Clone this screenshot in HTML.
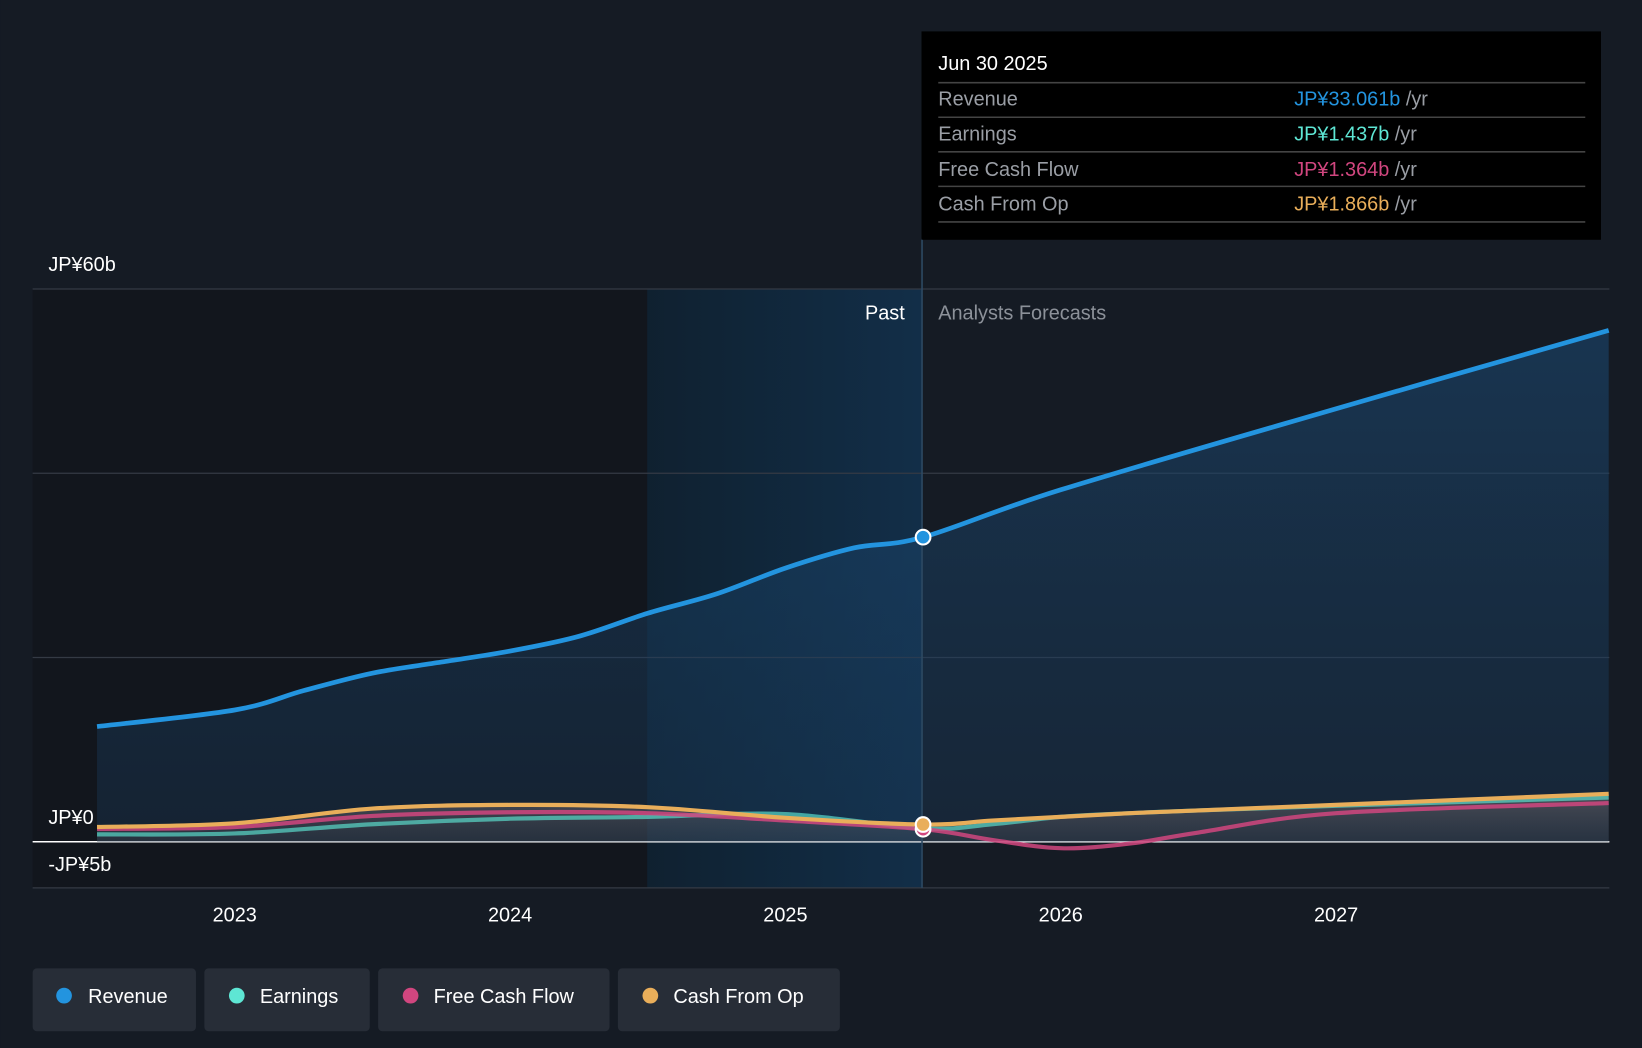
<!DOCTYPE html>
<html><head><meta charset="utf-8"><style>
html,body{margin:0;padding:0;background:#151b24;}
svg{display:block;font-family:"Liberation Sans",sans-serif;}
</style></head><body>
<svg id="chart" width="1642" height="1048" viewBox="0 0 1568 1001" xmlns="http://www.w3.org/2000/svg">
<defs>
<linearGradient id="pastGrad" x1="0" x2="1" y1="0" y2="0"><stop offset="0" stop-color="#0f2232"/><stop offset="1" stop-color="#12314d"/></linearGradient>
<linearGradient id="revFill" x1="0" x2="0" y1="0" y2="1"><stop offset="0" stop-color="#1a4a75" stop-opacity="0.55"/><stop offset="1" stop-color="#1a3a5a" stop-opacity="0.35"/></linearGradient>
<linearGradient id="lowFill" x1="0" x2="0" y1="0" y2="1"><stop offset="0" stop-color="#8a7a7a" stop-opacity="0.45"/><stop offset="1" stop-color="#5a5a60" stop-opacity="0.25"/></linearGradient>
</defs>
<rect width="1568" height="1001" fill="#151b24"/>
<rect x="31" y="276" width="849" height="572" fill="#12161d"/>
<rect x="618" y="276" width="262" height="572" fill="url(#pastGrad)" opacity="0.9"/>
<g id="grid"></g>
<g id="series"></g>
<line x1="880.5" y1="228" x2="880.5" y2="848" stroke="#2d4a63" stroke-width="1.5"/>
<text x="864" y="305" fill="#fff" font-size="19" text-anchor="end">Past</text>
<text x="896" y="305" fill="#8c9199" font-size="19">Analysts Forecasts</text>
<g id="xaxis"></g>
<g id="markers"></g>
<g>
<rect x="880" y="30" width="649" height="199" fill="#000"/>
<text x="896" y="67" fill="#fff" font-size="19">Jun 30 2025</text>
<line x1="896" y1="79" x2="1514" y2="79" stroke="#444" stroke-width="1.5"/>
<text x="896" y="101" fill="#9a9ea5" font-size="19">Revenue</text>
<text x="1236" y="101" font-size="19"><tspan fill="#2394df">JP¥33.061b</tspan><tspan fill="#9a9ea5"> /yr</tspan></text>
<line x1="896" y1="112" x2="1514" y2="112" stroke="#444" stroke-width="1.5"/>
<text x="896" y="134" fill="#9a9ea5" font-size="19">Earnings</text>
<text x="1236" y="134" font-size="19"><tspan fill="#5ee6d4">JP¥1.437b</tspan><tspan fill="#9a9ea5"> /yr</tspan></text>
<line x1="896" y1="145" x2="1514" y2="145" stroke="#444" stroke-width="1.5"/>
<text x="896" y="168" fill="#9a9ea5" font-size="19">Free Cash Flow</text>
<text x="1236" y="168" font-size="19"><tspan fill="#d1467f">JP¥1.364b</tspan><tspan fill="#9a9ea5"> /yr</tspan></text>
<line x1="896" y1="178" x2="1514" y2="178" stroke="#444" stroke-width="1.5"/>
<text x="896" y="201" fill="#9a9ea5" font-size="19">Cash From Op</text>
<text x="1236" y="201" font-size="19"><tspan fill="#e9ae5a">JP¥1.866b</tspan><tspan fill="#9a9ea5"> /yr</tspan></text>
<line x1="896" y1="212" x2="1514" y2="212" stroke="#444" stroke-width="1.5"/>
</g>
<g>
<g><rect x="31" y="925" width="156" height="60" rx="4" fill="#272d37"/><circle cx="61" cy="951" r="7.5" fill="#2394df"/><text x="84" y="958" fill="#fff" font-size="19">Revenue</text></g>
<g><rect x="195" y="925" width="158" height="60" rx="4" fill="#272d37"/><circle cx="226" cy="951" r="7.5" fill="#5ee6d4"/><text x="248" y="958" fill="#fff" font-size="19">Earnings</text></g>
<g><rect x="361" y="925" width="221" height="60" rx="4" fill="#272d37"/><circle cx="392" cy="951" r="7.5" fill="#d1467f"/><text x="414" y="958" fill="#fff" font-size="19">Free Cash Flow</text></g>
<g><rect x="590" y="925" width="212" height="60" rx="4" fill="#272d37"/><circle cx="621" cy="951" r="7.5" fill="#e9ae5a"/><text x="643" y="958" fill="#fff" font-size="19">Cash From Op</text></g>
</g>
</svg>
<script>
const years = [2022.5,2023.0,2023.25,2023.5,2023.75,2024.0,2024.25,2024.5,2024.75,2025.0,2025.25,2025.5,2026.0,2027.0,2027.99];
const revenue = [12.5,14.3,16.4,18.3,19.5,20.7,22.3,24.8,26.9,29.7,31.9,33.06,38.2,47.0,55.5];
const lowYears = [2022.5,2023.0,2023.5,2024.0,2024.5,2025.0,2025.5,2025.75,2026.0,2026.25,2026.5,2027.0,2027.99];
const earnings = [0.8,0.9,1.9,2.5,2.7,3.0,1.44,1.9,2.7,3.1,3.4,3.9,4.8];
const fcf = [1.4,1.6,2.8,3.2,3.1,2.3,1.36,0.2,-0.7,-0.2,1.0,3.1,4.2];
const cfo = [1.6,2.0,3.6,4.0,3.75,2.6,1.87,2.3,2.7,3.1,3.4,4.0,5.2];
const yTicks = [60,40,20,0,-5];
const yTickLabels = ["JP¥60b","","","JP¥0","-JP¥5b"];
const xTicks = [2023,2024,2025,2026,2027];
const NS="http://www.w3.org/2000/svg";
const X = t => 224 + (t-2023)*263;
const Y = v => 804 - v*8.8;
function el(tag, attrs, parent){const e=document.createElementNS(NS,tag);for(const k in attrs)e.setAttribute(k,attrs[k]);parent.appendChild(e);return e;}
function path(xs, vs){
  const p=xs.map((t,i)=>[X(t),Y(vs[i])]);
  let d=`M${p[0][0]},${p[0][1]}`;
  for(let i=0;i<p.length-1;i++){
    const p0=p[i-1]||p[i],p1=p[i],p2=p[i+1],p3=p[i+2]||p2;
    const c1=[p1[0]+(p2[0]-p0[0])/6,p1[1]+(p2[1]-p0[1])/6];
    const c2=[p2[0]-(p3[0]-p1[0])/6,p2[1]-(p3[1]-p1[1])/6];
    d+=` C${c1[0]},${c1[1]} ${c2[0]},${c2[1]} ${p2[0]},${p2[1]}`;
  }
  return d;
}
const grid=document.getElementById('grid');
yTicks.forEach((v,i)=>{
  const l=el('line',{x1:31,x2:1537,y1:Y(v),y2:Y(v),stroke:v===0?'#ffffff':'#343a44','stroke-width':v===0?1.5:1.2},grid);
  
  
  if(yTickLabels[i]){
    const t=el('text',{x:46,y:Y(v)-17,fill:'#fff','font-size':19},grid);
    if(v===-5) t.setAttribute('y',Y(v)-16);
    t.textContent=yTickLabels[i];
    
    
  }
});
const s=document.getElementById('series');
const rd=path(years,revenue);
const ra=el('path',{d:rd+` L${X(years[years.length-1])},${Y(0)} L${X(years[0])},${Y(0)} Z`,fill:'url(#revFill)'},s);


const ld=path(lowYears,cfo);
const la=el('path',{d:ld+` L${X(lowYears[lowYears.length-1])},${Y(0)} L${X(lowYears[0])},${Y(0)} Z`,fill:'url(#lowFill)'},s);


[[earnings,'#5ee6d4','earnings-line',0.65],[fcf,'#d1467f','free-cash-flow-line',0.85],[cfo,'#e9ae5a','cash-from-op-line',1]].forEach(([vs,c,n,o])=>{
  const l=el('path',{d:path(lowYears,vs),fill:'none',stroke:c,'stroke-width':4,opacity:o},s);
  
  
});
const rl=el('path',{d:rd,fill:'none',stroke:'#2394df','stroke-width':4.5},s);


const xa=document.getElementById('xaxis');
xTicks.forEach(t=>{
  const tx=el('text',{x:X(t),y:880,fill:'#fff','font-size':19,'text-anchor':'middle'},xa);
  tx.textContent=String(t);
  
  
});
const m=document.getElementById('markers');
const iNow=years.indexOf(2025.5), jNow=lowYears.indexOf(2025.5);
[[revenue[iNow],'#2394df'],[fcf[jNow],'#d1467f'],[cfo[jNow],'#e9ae5a']].forEach(([v,c])=>{
  const ci=el('circle',{cx:X(2025.5),cy:Y(v),r:7,fill:c,stroke:'#fff','stroke-width':2},m);
  
  
});
</script>
</body></html>
